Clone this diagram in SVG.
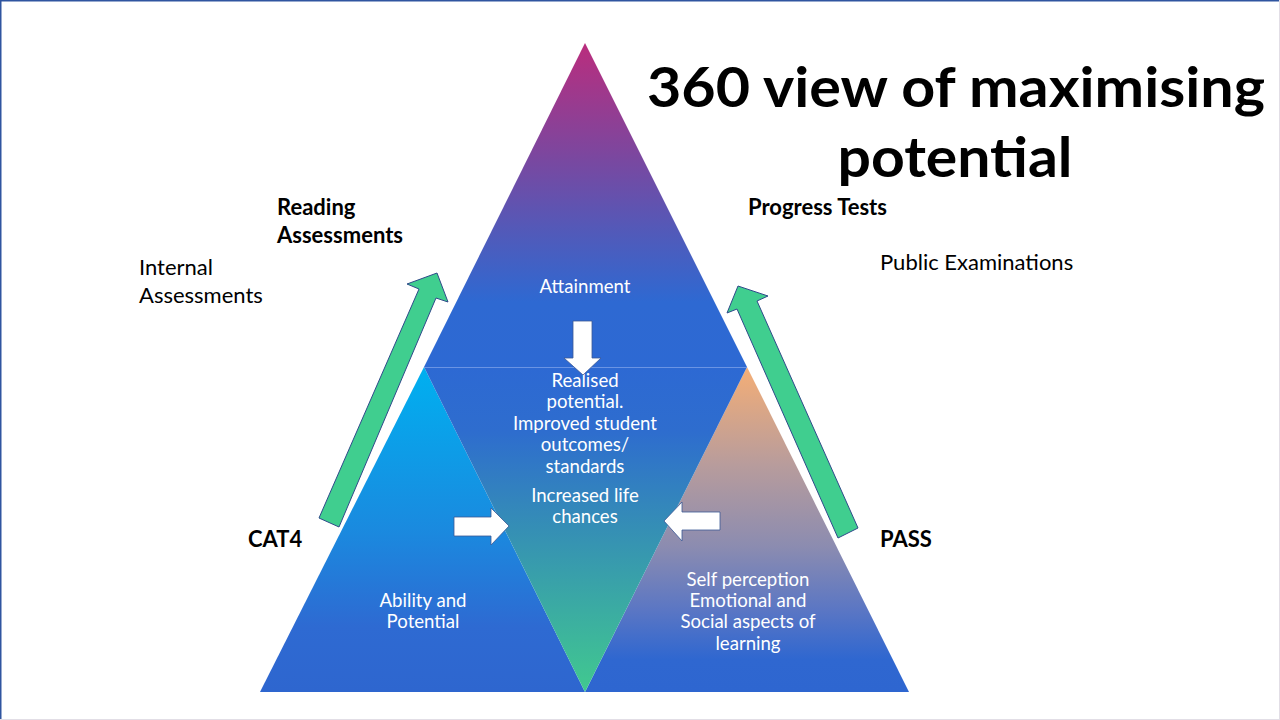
<svg xmlns="http://www.w3.org/2000/svg" width="1280" height="720" viewBox="0 0 1280 720">
  <defs>
    <linearGradient id="gTop" gradientUnits="userSpaceOnUse" x1="0" y1="43" x2="0" y2="367">
      <stop offset="0" stop-color="#BA2D7D"/>
      <stop offset="0.35" stop-color="#7B479F"/>
      <stop offset="0.6" stop-color="#4F5BBB"/>
      <stop offset="0.8" stop-color="#2E69D2"/>
      <stop offset="1" stop-color="#2D69D3"/>
    </linearGradient>
    <linearGradient id="gMid" gradientUnits="userSpaceOnUse" x1="0" y1="367" x2="0" y2="692">
      <stop offset="0" stop-color="#2D69D3"/>
      <stop offset="0.2" stop-color="#2E6DCE"/>
      <stop offset="0.5" stop-color="#358FB5"/>
      <stop offset="1" stop-color="#41C98F"/>
    </linearGradient>
    <linearGradient id="gLeft" gradientUnits="userSpaceOnUse" x1="0" y1="367" x2="0" y2="692">
      <stop offset="0" stop-color="#00B0F0"/>
      <stop offset="0.5" stop-color="#1A8ADF"/>
      <stop offset="0.8" stop-color="#2E6AD2"/>
      <stop offset="1" stop-color="#2E66CF"/>
    </linearGradient>
    <linearGradient id="gRight" gradientUnits="userSpaceOnUse" x1="0" y1="367" x2="0" y2="692">
      <stop offset="0" stop-color="#F4AE76"/>
      <stop offset="0.3" stop-color="#B89C9C"/>
      <stop offset="0.55" stop-color="#8C8CB0"/>
      <stop offset="0.75" stop-color="#5A76C4"/>
      <stop offset="0.9" stop-color="#2F67D0"/>
      <stop offset="1" stop-color="#2E66D0"/>
    </linearGradient>
  </defs>
  <style>
    .lbl { font-family: Lato, "Liberation Sans", sans-serif; fill: #000000; }
    .bold { font-weight: bold; }
    .title { font-family: Lato, "Liberation Sans", sans-serif; font-weight: bold; font-size: 56px; fill: #000000; text-anchor: middle; }
    .inner { font-family: Lato, "Liberation Sans", sans-serif; font-size: 18.6px; fill: #FFFFFF; text-anchor: middle; }
    .side { font-size: 22px; }
    .green { fill: #40CE8F; stroke: #2F4A8A; stroke-width: 1; }
    .white { fill: #FFFFFF; stroke: #3A5896; stroke-width: 0.8; }
  </style>

  <rect x="0" y="0" width="1280" height="720" fill="#FFFFFF"/>
  <line x1="0" y1="0.75" x2="1280" y2="0.75" stroke="#2F55A0" stroke-width="1.5"/>
  <line x1="0.75" y1="0" x2="0.75" y2="720" stroke="#2F55A0" stroke-width="1.5"/>
  <line x1="1279.5" y1="0" x2="1279.5" y2="720" stroke="#E2DEE6" stroke-width="1"/>
  <line x1="0" y1="719.5" x2="1280" y2="719.5" stroke="#E2DEE6" stroke-width="1"/>

  <g id="node-attainment">
    <polygon points="585,43 747,367 424,367" fill="url(#gTop)"/>
    <text class="inner" x="585" y="293">Attainment</text>
  </g>

  <g id="node-ability">
    <polygon points="424,367 585,692 260,692" fill="url(#gLeft)"/>
    <text class="inner" x="423" y="607">Ability and</text>
    <text class="inner" x="423" y="628">Potential</text>
  </g>

  <g id="node-self">
    <polygon points="747,367 909,692 585,692" fill="url(#gRight)"/>
    <text class="inner" x="748" y="586">Self perception</text>
    <text class="inner" x="748" y="607">Emotional and</text>
    <text class="inner" x="748" y="628">Social aspects of</text>
    <text class="inner" x="748" y="650">learning</text>
  </g>

  <g id="node-realised">
    <polygon points="424,367 747,367 585,692" fill="url(#gMid)"/>
    <line x1="424" y1="367.5" x2="747" y2="367.5" stroke="#6A94E4" stroke-width="1"/>
    <text class="inner" x="585" y="387">Realised</text>
    <text class="inner" x="585" y="408">potential.</text>
    <text class="inner" x="585" y="430">Improved student</text>
    <text class="inner" x="585" y="451">outcomes/</text>
    <text class="inner" x="585" y="473">standards</text>
    <text class="inner" x="585" y="502">Increased life</text>
    <text class="inner" x="585" y="523">chances</text>
  </g>

  <g id="connectors">
    <polygon class="white" points="573,321 592,321 592,358 601,358 583,375 564,358 573,358"/>
    <polygon class="white" points="454,517 491,517 491,508 509,526 491,545 491,536 454,536"/>
    <polygon class="white" points="720,512 682,512 682,502 664,521 682,541 682,530 720,530"/>
    <polygon class="green" points="319,518 339,527 436,298 448,302 437,273 407,284 419,289"/>
    <polygon class="green" points="838,538 858,528 757,301 768,296 738,286 727,313 737,309"/>
  </g>

  <g id="title">
    <text class="title" x="956" y="107" textLength="618" lengthAdjust="spacingAndGlyphs">360 view of maximising</text>
    <text class="title" x="955" y="177" textLength="235" lengthAdjust="spacingAndGlyphs">potential</text>
  </g>

  <g id="label-reading">
    <text class="lbl bold side" x="277" y="215">Reading</text>
    <text class="lbl bold side" x="277" y="243">Assessments</text>
  </g>
  <g id="label-internal">
    <text class="lbl side" x="139" y="275">Internal</text>
    <text class="lbl side" x="139" y="303">Assessments</text>
  </g>
  <g id="label-progress">
    <text class="lbl bold side" x="748" y="215">Progress Tests</text>
  </g>
  <g id="label-public">
    <text class="lbl side" x="880" y="270">Public Examinations</text>
  </g>
  <g id="label-cat4">
    <text class="lbl bold side" x="248" y="547">CAT4</text>
  </g>
  <g id="label-pass">
    <text class="lbl bold side" x="880" y="547">PASS</text>
  </g>
</svg>
